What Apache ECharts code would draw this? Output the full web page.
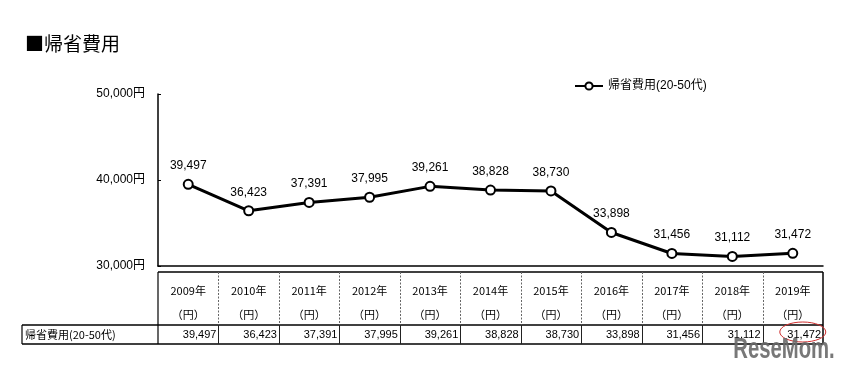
<!DOCTYPE html>
<html>
<head>
<meta charset="utf-8">
<script src="https://cdn.jsdelivr.net/npm/echarts@6/dist/echarts.min.js"></script>
<style>
html,body{margin:0;padding:0;background:#fff;}
#c{width:845px;height:371px;}
</style>
</head>
<body>
<div id="c"></div>
<script>
const titleText = '■帰省費用';
const seriesName = '帰省費用(20-50代)';
const years = ['2009年','2010年','2011年','2012年','2013年','2014年','2015年','2016年','2017年','2018年','2019年'];
const values = [39497, 36423, 37391, 37995, 39261, 38828, 38730, 33898, 31456, 31112, 31472];
const unitLabel = '（円）';
const yTicks = [30000, 40000, 50000];

const FONT = '"Liberation Sans","Noto Sans CJK JP",Arial,sans-serif';
const fmt = v => Number(v).toLocaleString('en-US');

const chart = echarts.init(document.getElementById('c'), null, {renderer:'canvas'});
chart.setOption({
  animation: false,
  backgroundColor: '#fff',
  textStyle: {fontFamily: FONT},
  title: {
    text: titleText, left: 20, top: 29,
    textStyle: {fontSize: 19, fontWeight: 'normal', color: '#000', fontFamily: '"Noto Sans CJK JP",sans-serif'}
  },
  legend: {
    data: [seriesName], left: 569, top: 75,
    itemWidth: 28, itemHeight: 9, itemGap: 3,
    textStyle: {fontSize: 12, color: '#000', fontFamily: FONT}
  },
  grid: {left: 158, right: 22, top: 94, bottom: 105, containLabel: false, outerBoundsMode: 'none'},
  xAxis: {
    type: 'category', data: years, boundaryGap: true,
    axisLine: {lineStyle: {color: '#000', width: 1.5}},
    axisTick: {inside: true, length: 5, lineStyle: {color: '#000'}},
    axisLabel: {show: false},
    splitLine: {show: false}
  },
  yAxis: {
    type: 'value', min: yTicks[0], max: yTicks[yTicks.length-1], interval: 10000,
    axisLine: {show: true, lineStyle: {color: '#000', width: 1.5}},
    axisTick: {show: true, inside: true, length: 3, lineStyle: {color: '#000'}},
    axisLabel: {formatter: v => fmt(v) + '円', fontSize: 12, color: '#000', margin: 13, fontFamily: FONT},
    splitLine: {show: false}
  },
  series: [{
    name: seriesName, type: 'line', data: values,
    symbol: 'circle', symbolSize: 9,
    lineStyle: {color: '#000', width: 3},
    itemStyle: {color: '#fff', borderColor: '#000', borderWidth: 2},
    label: {show: true, position: 'top', distance: 7, fontSize: 12, color: '#000', fontFamily: FONT, formatter: p => fmt(p.value)},
    z: 3
  }]
});

// table below the chart, positioned from the category axis scale
const tableTop = 272, headerBottom = 325, rowBottom = 344, leftColX = 22;
const centers = years.map((_, i) => chart.convertToPixel({xAxisIndex: 0}, i));
const half = (centers[1] - centers[0]) / 2;
const xLeft = centers[0] - half, xRight = centers[centers.length-1] + half;
const g = [];
const L = (x1,y1,x2,y2,stroke,w,dash) => g.push({type:'line', silent:true, z:10, shape:{x1,y1,x2,y2}, style:{stroke, lineWidth:w, lineDash: dash || null}});
const T = (text,x,y,align,font) => g.push({type:'text', silent:true, z:11, style:{text, x, y, align, verticalAlign:'middle', font, fill:'#000'}});
const JF = '11px "Noto Sans CJK JP","Liberation Sans",sans-serif';
const NF = '11px "Liberation Sans",Arial,sans-serif';

// outer borders
L(xLeft, tableTop, xRight, tableTop, '#000', 1.5);
L(xLeft, tableTop, xLeft, rowBottom, '#000', 1.2);
L(xRight, tableTop, xRight, rowBottom, '#000', 1.5);
L(leftColX, headerBottom, xRight, headerBottom, '#000', 1.5);
L(leftColX, rowBottom, xRight, rowBottom, '#000', 1.5);
L(leftColX, headerBottom, leftColX, rowBottom, '#000', 1.2);
for (let i = 1; i < years.length; i++) {
  const x = Math.round(centers[i] - half) + 0.5;
  L(x, tableTop, x, headerBottom, '#666', 1, [2, 1.5]);
  L(x, headerBottom, x, rowBottom, '#222', 1);
}
years.forEach((y, i) => {
  T(y, centers[i], 291, 'center', JF);
  T(unitLabel, centers[i], 315, 'center', JF);
  T(fmt(values[i]), centers[i] + half - 2, 335, 'right', NF);
});
T(seriesName, leftColX + 3, 335, 'left', JF);

// red highlight ellipse and watermark (as in the reference image)
const lastC = centers[centers.length-1];
g.push({type:'ellipse', silent:true, z:12, shape:{cx: lastC + 10, cy: 332, rx: 23, ry: 10}, style:{fill:'none', stroke:'#d03030', lineWidth:1}});
g.push({type:'text', silent:true, z:13, x: 784, y: 350, scaleX: 0.7, style:{text:'ReseMom.', x: 0, y: 0, align:'center', verticalAlign:'middle', font:'bold 29px "Liberation Sans",Arial,sans-serif', fill:'rgba(105,105,105,0.9)'}});

chart.setOption({graphic: g});
</script>
</body>
</html>
